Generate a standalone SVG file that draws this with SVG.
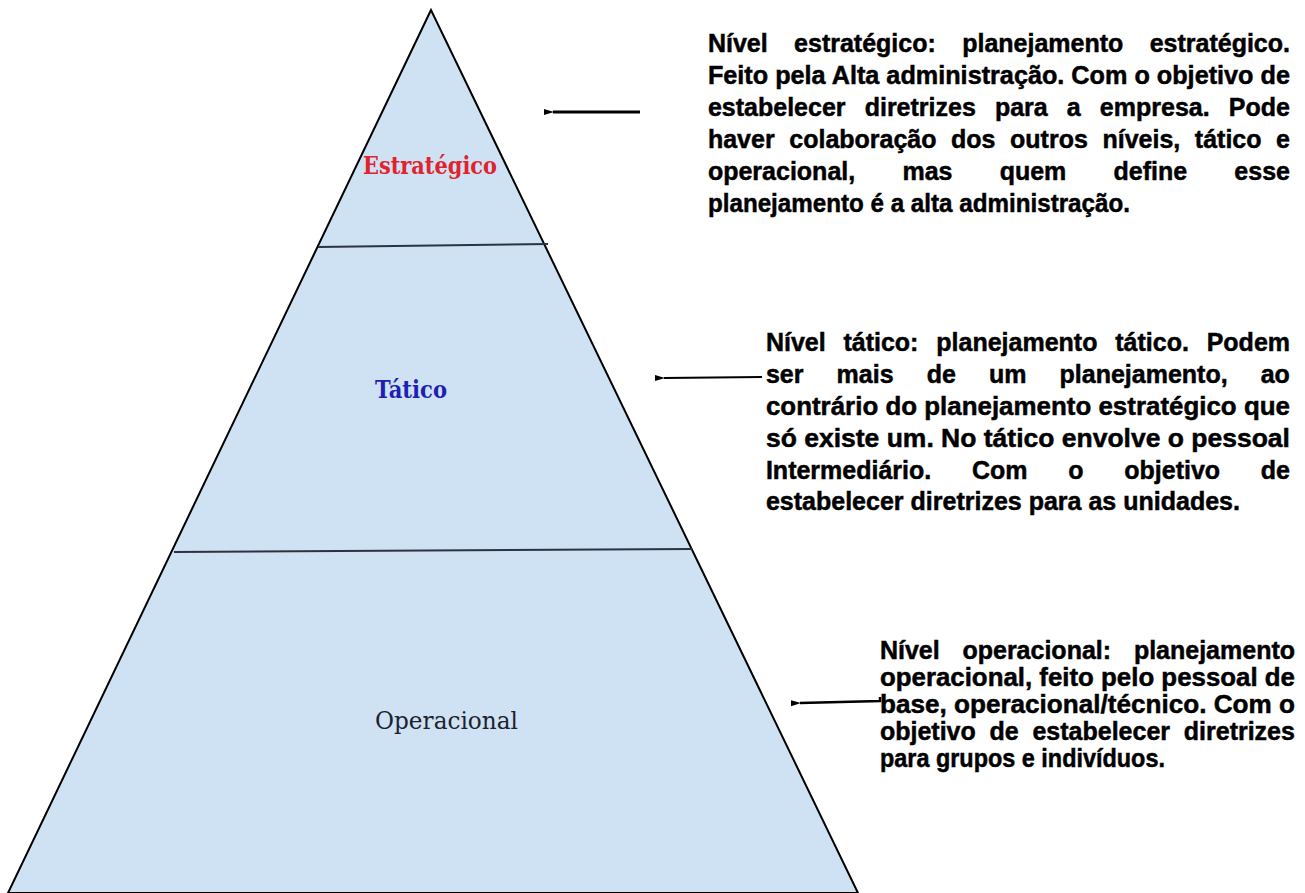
<svg xmlns="http://www.w3.org/2000/svg" width="1305" height="893" viewBox="0 0 1305 893">
<style>
.lvl{font-family:"DejaVu Serif","Liberation Serif",serif;font-size:24px;font-weight:bold}
.desc{font-family:"Liberation Sans",Arial,sans-serif;font-size:26px;font-weight:bold;fill:#000;stroke:#000;stroke-width:0.5}
.div{stroke:#2a3440;stroke-width:2;fill:none}
.conn{stroke:#000;fill:none}
</style>
<defs>
<marker id="ah" viewBox="0 0 10 8" refX="1" refY="4" markerWidth="10" markerHeight="8" markerUnits="userSpaceOnUse" orient="auto">
<path d="M10,1 L0,4 L10,7 Z" fill="#000"/>
</marker>
</defs>
<rect width="1305" height="893" fill="#fff"/>
<g id="pyramid">
<polygon points="431,10 8,893 858,893" fill="#cfe2f3" stroke="#000" stroke-width="2"/>
<line class="div" x1="318" y1="247" x2="548" y2="244"/>
<line class="div" x1="174" y1="552" x2="692" y2="549"/>
</g>
<g id="level-estrategico"><text class="lvl" x="363" y="174" fill="#e0232d" textLength="134" lengthAdjust="spacingAndGlyphs">Estratégico</text></g>
<g id="level-tatico"><text class="lvl" x="375" y="398" fill="#1f1fb4" textLength="72" lengthAdjust="spacingAndGlyphs">Tático</text></g>
<g id="level-operacional"><text class="lvl" x="375" y="729" fill="#1c2230" style="font-weight:normal" textLength="143" lengthAdjust="spacingAndGlyphs">Operacional</text></g>
<g id="desc-estrategico" class="desc" transform="scale(0.9615,1)">
<text y="52"><tspan x="736.3">Nível</tspan><tspan x="825.9">estratégico:</tspan><tspan x="1000.7">planejamento</tspan><tspan x="1195.7">estratégico.</tspan></text>
<text x="736.3" y="84" textLength="605.3" lengthAdjust="spacingAndGlyphs">Feito pela Alta administração. Com o objetivo de</text>
<text y="116"><tspan x="736.3">estabelecer</tspan><tspan x="899.3">diretrizes</tspan><tspan x="1034.8">para</tspan><tspan x="1109.6">a</tspan><tspan x="1143.9">empresa.</tspan><tspan x="1278">Pode</tspan></text>
<text y="148"><tspan x="736.3">haver</tspan><tspan x="820.9">colaboração</tspan><tspan x="989.1">dos</tspan><tspan x="1050.5">outros</tspan><tspan x="1146.6">níveis,</tspan><tspan x="1242.7">tático</tspan><tspan x="1327.1">e</tspan></text>
<text y="180"><tspan x="736.3">operacional,</tspan><tspan x="938.6">mas</tspan><tspan x="1039.7">quem</tspan><tspan x="1158.1">define</tspan><tspan x="1283.8">esse</tspan></text>
<text x="736.3" y="212" textLength="438.9" lengthAdjust="spacingAndGlyphs">planejamento é a alta administração.</text>
</g>
<g id="desc-tatico" class="desc" transform="scale(0.9615,1)">
<text y="351"><tspan x="796.6">Nível</tspan><tspan x="877.2">tático:</tspan><tspan x="973.8">planejamento</tspan><tspan x="1159.9">tático.</tspan><tspan x="1255">Podem</tspan></text>
<text y="383"><tspan x="796.6">ser</tspan><tspan x="870.1">mais</tspan><tspan x="963.8">de</tspan><tspan x="1028.6">um</tspan><tspan x="1102">planejamento,</tspan><tspan x="1311.2">ao</tspan></text>
<text x="796.6" y="415" textLength="545" lengthAdjust="spacingAndGlyphs">contrário do planejamento estratégico que</text>
<text x="796.6" y="447" textLength="545" lengthAdjust="spacingAndGlyphs">só existe um. No tático envolve o pessoal</text>
<text y="479"><tspan x="796.6">Intermediário.</tspan><tspan x="1010.9">Com</tspan><tspan x="1111">o</tspan><tspan x="1169.3">objetivo</tspan><tspan x="1311.3">de</tspan></text>
<text x="796.6" y="510" textLength="493" lengthAdjust="spacingAndGlyphs">estabelecer diretrizes para as unidades.</text>
</g>
<g id="desc-operacional" class="desc" transform="scale(0.9615,1)">
<text y="659"><tspan x="915.2">Nível</tspan><tspan x="1001">operacional:</tspan><tspan x="1179.3">planejamento</tspan></text>
<text x="915.2" y="686" textLength="431.6" lengthAdjust="spacingAndGlyphs">operacional, feito pelo pessoal de</text>
<text x="915.2" y="713" textLength="431.6" lengthAdjust="spacingAndGlyphs">base, operacional/técnico. Com o</text>
<text y="740"><tspan x="915.2">objetivo</tspan><tspan x="1029.2">de</tspan><tspan x="1073.8">estabelecer</tspan><tspan x="1231.2">diretrizes</tspan></text>
<text x="915.2" y="767" textLength="296.4" lengthAdjust="spacingAndGlyphs">para grupos e indivíduos.</text>
</g>
<g id="connectors">
<line class="conn" x1="640" y1="112" x2="553" y2="112" stroke-width="3" marker-end="url(#ah)"/>
<line class="conn" x1="762" y1="377" x2="664" y2="378" stroke-width="2" marker-end="url(#ah)"/>
<polyline class="conn" points="880,697 880,701 800,703" stroke-width="2.5" marker-end="url(#ah)"/>
</g>
</svg>
